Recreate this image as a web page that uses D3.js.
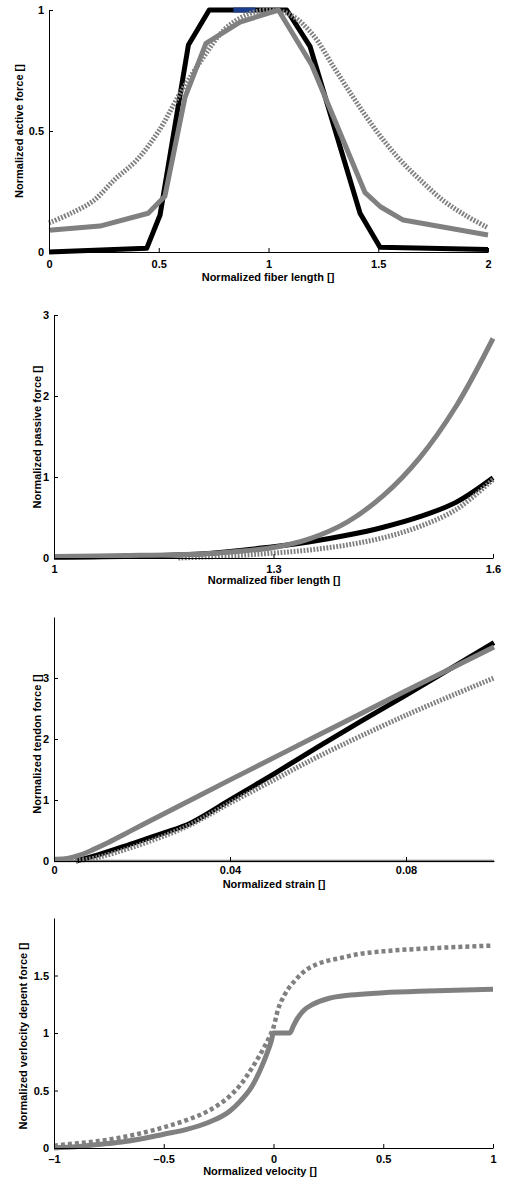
<!DOCTYPE html>
<html>
<head>
<meta charset="utf-8">
<script src="https://cdn.jsdelivr.net/npm/d3@7"></script>
<style>
  body { margin: 0; background: #fff; }
  svg text { font-family: "Liberation Sans", Arial, sans-serif; font-weight: bold; fill: #000; }
  .axis path, .axis line { stroke: #000; stroke-width: 1; }
</style>
</head>
<body>
<script>
// panel 1 - active force vs fiber length
var activeX_black = [0, 0.445, 0.506, 0.635, 0.73, 1.083, 1.189, 1.417, 1.508, 2];
var activeY_black = [0, 0.015, 0.153, 0.855, 1, 1, 0.85, 0.16, 0.02, 0.01];
var activeX_gray = [0, 0.232, 0.452, 0.528, 0.62, 0.715, 0.87, 1.045, 1.197, 1.44, 1.51, 1.614, 2];
var activeY_gray = [0.09, 0.107, 0.16, 0.23, 0.64, 0.862, 0.95, 1, 0.773, 0.245, 0.187, 0.132, 0.07];
var activeX_dot = [0, 0.1, 0.2, 0.3, 0.4, 0.5, 0.6, 0.7, 0.8, 0.9, 1.0, 1.1, 1.2, 1.3, 1.4, 1.5, 1.6, 1.7, 1.8, 1.9, 2.0];
var activeY_dot = [0.12, 0.16, 0.21, 0.3, 0.38, 0.5, 0.66, 0.8, 0.92, 0.98, 1.0, 0.98, 0.9, 0.76, 0.62, 0.49, 0.38, 0.29, 0.21, 0.15, 0.1];
var activeX_blue = [0.84, 0.94];
var activeY_blue = [1, 1];

// panel 2 - passive force
var passX_gray = [1, 1.1, 1.2, 1.25, 1.3, 1.35, 1.4, 1.45, 1.5, 1.55, 1.6];
var passY_gray = [0.02, 0.03, 0.05, 0.08, 0.13, 0.24, 0.44, 0.77, 1.24, 1.88, 2.71];
var passX_black = [1, 1.2, 1.3, 1.35, 1.4, 1.45, 1.5, 1.55, 1.6];
var passY_black = [0.01, 0.05, 0.14, 0.2, 0.28, 0.38, 0.51, 0.69, 0.99];
var passX_dot = [1.17, 1.2, 1.25, 1.3, 1.35, 1.4, 1.45, 1.5, 1.55, 1.6];
var passY_dot = [0, 0.01, 0.03, 0.06, 0.1, 0.16, 0.25, 0.39, 0.6, 0.97];

// panel 3 - tendon force
var tendX_gray = [0, 0.003, 0.006, 0.009, 0.012, 0.016, 0.02, 0.04, 0.06, 0.08, 0.1];
var tendY_gray = [0.03, 0.04, 0.1, 0.19, 0.29, 0.44, 0.59, 1.33, 2.06, 2.79, 3.51];
var tendX_black = [0.005, 0.01, 0.018, 0.025, 0.031, 0.04, 0.05, 0.06, 0.07, 0.08, 0.09, 0.1];
var tendY_black = [0, 0.1, 0.29, 0.46, 0.62, 1.0, 1.43, 1.87, 2.3, 2.72, 3.15, 3.58];
var tendX_dot = [0.005, 0.01, 0.018, 0.03, 0.04, 0.05, 0.06, 0.08, 0.1];
var tendY_dot = [0, 0.06, 0.23, 0.56, 0.95, 1.33, 1.71, 2.39, 3.0];

// panel 4 - force velocity
var velX_gray = [-1, -0.9, -0.8, -0.7, -0.6, -0.5, -0.4, -0.3, -0.2, -0.15, -0.1, -0.06, -0.03, -0.01, 0, 0.075, 0.09, 0.11, 0.14, 0.18, 0.25, 0.35, 0.5, 0.7, 1.0];
var velY_gray = [0, 0.01, 0.03, 0.05, 0.08, 0.12, 0.16, 0.22, 0.32, 0.41, 0.53, 0.68, 0.82, 0.93, 1.0, 1.0, 1.06, 1.13, 1.2, 1.25, 1.3, 1.33, 1.35, 1.365, 1.38];
var velX_dot = [-1, -0.9, -0.8, -0.7, -0.6, -0.5, -0.4, -0.3, -0.2, -0.15, -0.1, -0.05, -0.02, 0, 0.02, 0.05, 0.1, 0.15, 0.2, 0.3, 0.4, 0.5, 0.75, 1.0];
var velY_dot = [0.02, 0.04, 0.06, 0.09, 0.13, 0.18, 0.24, 0.32, 0.45, 0.55, 0.69, 0.85, 0.96, 1.05, 1.2, 1.33, 1.46, 1.55, 1.6, 1.65, 1.69, 1.71, 1.74, 1.76];

var GRAY = "#808080";

function zip(xs, ys) {
    return xs.map(function (x, i) { return [x, ys[i]]; });
}

var svg = d3.select("body").append("svg")
    .attr("width", 505)
    .attr("height", 1184);

function fmt(d) {
    return String(d).replace("-", "\u2013");
}

function panel(opt) {
    var x = d3.scaleLinear().domain(opt.xDomain).range([opt.left, opt.right]);
    var y = d3.scaleLinear().domain(opt.yDomain).range([opt.bottom, opt.top]);
    var g = svg.append("g");

    if (opt.zeroLine) {
        g.append("line")
            .attr("x1", x(opt.xDomain[0])).attr("x2", x(opt.xDomain[1]))
            .attr("y1", y(0)).attr("y2", y(0))
            .attr("stroke", GRAY).attr("stroke-width", 2.5);
    }

    opt.series.forEach(function (s) {
        var line = d3.line()
            .x(function (d) { return x(d[0]); })
            .y(function (d) { return y(d[1]); })
            .curve(s.curve || d3.curveLinear);
        g.append("path")
            .datum(zip(s.xs, s.ys))
            .attr("d", line)
            .attr("fill", "none")
            .attr("stroke", s.color)
            .attr("stroke-width", s.width || 5)
            .attr("stroke-linejoin", "round")
            .attr("stroke-dasharray", s.dash || null);
    });

    var xa = g.append("g").attr("class", "axis")
        .attr("transform", "translate(0," + opt.bottom + ")")
        .call(d3.axisBottom(x).tickValues(opt.xTicks).tickSizeInner(-4).tickSizeOuter(0)
            .tickPadding(opt.xPad || 7).tickFormat(fmt));
    xa.selectAll("text").attr("font-size", 11);

    var ya = g.append("g").attr("class", "axis")
        .attr("transform", "translate(" + opt.left + ",0)")
        .call(d3.axisLeft(y).tickValues(opt.yTicks).tickSizeInner(-4).tickSizeOuter(0)
            .tickPadding(5).tickFormat(fmt));
    ya.selectAll("text").attr("font-size", 11);

    g.append("text")
        .attr("x", opt.xLabelX).attr("y", opt.xLabelY)
        .attr("text-anchor", "middle").attr("font-size", 11)
        .text(opt.xLabel);

    g.append("text")
        .attr("transform", "translate(" + opt.yLabelX + "," + opt.yLabelY + ") rotate(-90)")
        .attr("text-anchor", "middle").attr("dy", "0.35em").attr("font-size", 11)
        .text(opt.yLabel);
}

var dotted = "1.8,1.5";
var smooth = d3.curveCatmullRom.alpha(0.5);

panel({
    left: 49, right: 488, top: 10, bottom: 252,
    xDomain: [0, 2], yDomain: [0, 1],
    xTicks: [0, 0.5, 1, 1.5, 2], yTicks: [0, 0.5, 1], xPad: 8,
    xLabel: "Normalized fiber length []", xLabelX: 268, xLabelY: 281,
    yLabel: "Normalized active force []", yLabelX: 19, yLabelY: 131,
    series: [
        { xs: activeX_black, ys: activeY_black, color: "#000" },
        { xs: activeX_blue, ys: activeY_blue, color: "#1c3c8c" },
        { xs: activeX_dot, ys: activeY_dot, color: GRAY, dash: dotted, curve: smooth },
        { xs: activeX_gray, ys: activeY_gray, color: GRAY }
    ]
});

panel({
    left: 54, right: 493, top: 315, bottom: 558,
    xDomain: [1, 1.6], yDomain: [0, 3],
    xTicks: [1, 1.3, 1.6], yTicks: [0, 1, 2, 3],
    xLabel: "Normalized fiber length []", xLabelX: 274, xLabelY: 584,
    yLabel: "Normalized passive force []", yLabelX: 37, yLabelY: 437,
    series: [
        { xs: passX_black, ys: passY_black, color: "#000", curve: smooth },
        { xs: passX_dot, ys: passY_dot, color: GRAY, dash: dotted, curve: smooth },
        { xs: passX_gray, ys: passY_gray, color: GRAY, curve: smooth }
    ]
});

panel({
    left: 54, right: 494, top: 617, bottom: 861,
    xDomain: [0, 0.1], yDomain: [0, 4],
    xTicks: [0, 0.04, 0.08], yTicks: [0, 1, 2, 3], xPad: 5,
    zeroLine: true,
    xLabel: "Normalized strain []", xLabelX: 274, xLabelY: 888,
    yLabel: "Normalized tendon force []", yLabelX: 37, yLabelY: 744,
    series: [
        { xs: tendX_black, ys: tendY_black, color: "#000", curve: smooth },
        { xs: tendX_dot, ys: tendY_dot, color: GRAY, dash: dotted, curve: smooth },
        { xs: tendX_gray, ys: tendY_gray, color: GRAY, curve: smooth }
    ]
});

panel({
    left: 54, right: 493, top: 918, bottom: 1148,
    xDomain: [-1, 1], yDomain: [0, 2],
    xTicks: [-1, -0.5, 0, 0.5, 1], yTicks: [0, 0.5, 1, 1.5],
    xLabel: "Normalized velocity []", xLabelX: 260, xLabelY: 1175,
    yLabel: "Normalized verlocity depent force []", yLabelX: 23, yLabelY: 1036,
    series: [
        { xs: velX_dot, ys: velY_dot, color: GRAY, dash: "4,3", width: 4.5, curve: d3.curveMonotoneX },
        { xs: velX_gray, ys: velY_gray, color: GRAY, curve: d3.curveMonotoneX }
    ]
});
</script>
</body>
</html>
